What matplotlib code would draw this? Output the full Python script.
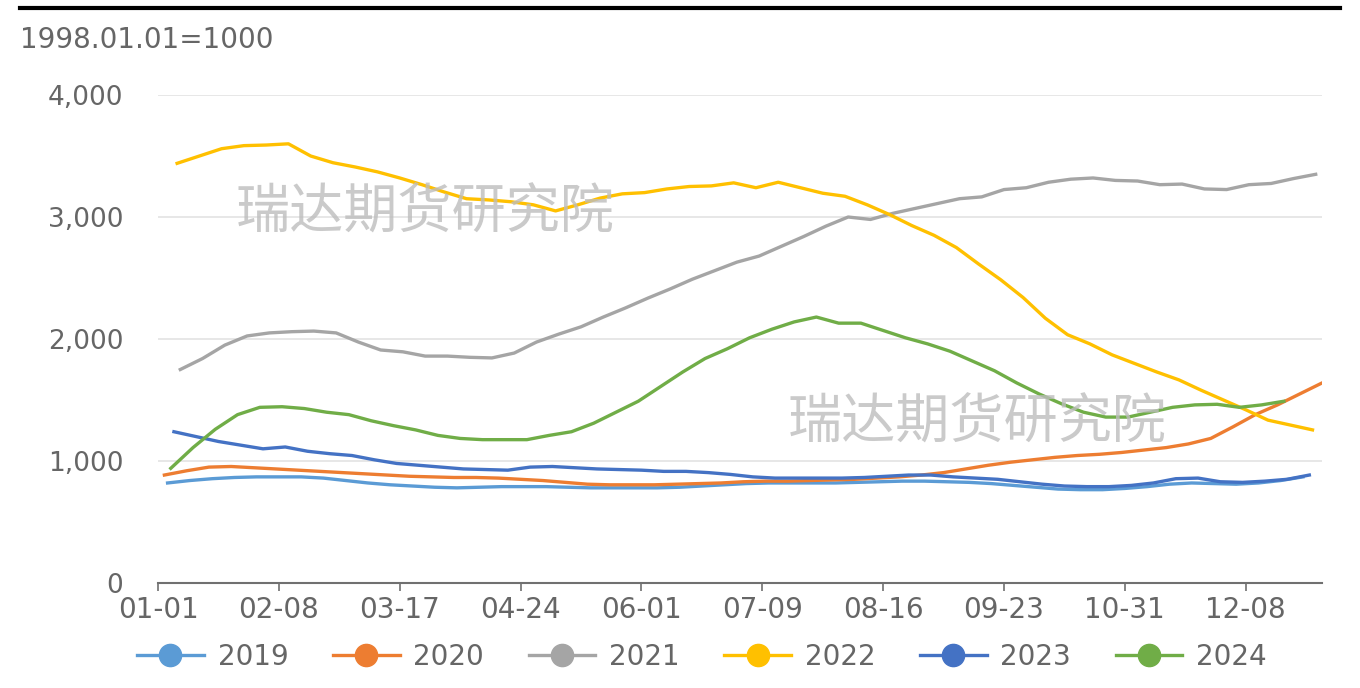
import matplotlib
matplotlib.use("Agg")
import matplotlib.pyplot as plt
from matplotlib.lines import Line2D
import numpy as np

plt.rcParams['font.family'] = ['DejaVu Sans', 'Noto Sans CJK SC']

# weekly index values (1998.01.01=1000), first Friday offset per year (day of year)
years = ['2019', '2020', '2021', '2022', '2023', '2024']
start_day = [3, 2, 7, 6, 5, 4]
colors = ['#5B9BD5', '#ED7D31', '#A5A5A5', '#FFC000', '#4472C4', '#70AD47']

v2019 = [820, 840, 855, 865, 870, 870, 870, 860, 840, 820, 805, 795, 785, 780, 785,
         790, 790, 790, 785, 780, 780, 780, 780, 785, 795, 805, 815, 820, 820, 820,
         820, 825, 830, 835, 835, 830, 825, 815, 800, 785, 770, 765, 765, 775, 790,
         810, 820, 815, 810, 820, 840, 870]
v2020 = [885, 920, 950, 955, 945, 935, 925, 915, 905, 895, 885, 875, 870, 865, 865,
         860, 850, 840, 825, 810, 805, 805, 805, 810, 815, 820, 830, 835, 835, 840,
         845, 850, 860, 870, 885, 905, 935, 965, 990, 1010, 1030, 1045, 1055, 1070,
         1090, 1110, 1140, 1185, 1280, 1380, 1460, 1550, 1640]
v2021 = [1750, 1840, 1950, 2025, 2050, 2060, 2065, 2050, 1975, 1910, 1895, 1860, 1860,
         1850, 1845, 1885, 1975, 2040, 2100, 2180, 2255, 2335, 2410, 2490, 2560, 2630,
         2680, 2760, 2840, 2925, 3000, 2980, 3030, 3070, 3110, 3150, 3165, 3225, 3240,
         3285, 3310, 3320, 3300, 3295, 3265, 3270, 3230, 3225, 3265, 3275, 3315, 3350]
v2022 = [3440, 3500, 3560, 3585, 3590, 3600, 3500, 3445, 3410, 3370, 3320, 3265, 3205,
         3150, 3140, 3125, 3100, 3050, 3100, 3155, 3190, 3200, 3230, 3250, 3255, 3280,
         3240, 3285, 3240, 3195, 3170, 3100, 3020, 2930, 2850, 2750, 2615, 2485, 2340,
         2170, 2035, 1960, 1870, 1800, 1730, 1665, 1580, 1500, 1420, 1335, 1295, 1255]
v2023 = [1240, 1200, 1160, 1130, 1100, 1115, 1080, 1060, 1045, 1010, 980, 965, 950,
         935, 930, 925, 950, 955, 945, 935, 930, 925, 915, 915, 905, 890, 870, 860,
         860, 860, 860, 865, 875, 885, 885, 870, 860, 850, 830, 810, 795, 790, 790,
         800, 820, 855, 860, 830, 825, 835, 850, 885]
v2024 = [940, 1110, 1260, 1380, 1440, 1445, 1430, 1400, 1380, 1330, 1290, 1255, 1210,
         1185, 1175, 1175, 1175, 1210, 1240, 1310, 1400, 1490, 1610, 1730, 1840, 1920,
         2010, 2080, 2140, 2180, 2130, 2130, 2070, 2010, 1960, 1900, 1820, 1740, 1640,
         1550, 1470, 1400, 1360, 1360, 1400, 1440, 1460, 1465, 1440, 1460, 1490]
series = [v2019, v2020, v2021, v2022, v2023, v2024]

tick_days = [0, 38, 76, 114, 152, 190, 228, 266, 304, 342]
tick_labels = ['01-01', '02-08', '03-17', '04-24', '06-01', '07-09', '08-16',
               '09-23', '10-31', '12-08']

txt = '#666666'

fig = plt.figure(figsize=(13.6, 6.88), dpi=100)
ax = fig.add_axes([0.1162, 0.1526, 0.8559, 0.7093])

for name, s0, col, vals in zip(years, start_day, colors, series):
    days = s0 + 7 * np.arange(len(vals))
    ax.plot(days, vals, color=col, lw=2.4, label=name, solid_joinstyle='round')

ax.set_xlim(0, 366)
ax.set_ylim(0, 4000)
ax.set_yticks([0, 1000, 2000, 3000, 4000])
ax.set_yticklabels(['0', '1,000', '2,000', '3,000', '4,000'])
ax.set_xticks(tick_days)
ax.set_xticklabels(tick_labels)
ax.grid(axis='y', color='#E3E3E3', lw=1.2)
ax.set_axisbelow(True)
for sp in ['top', 'right', 'left']:
    ax.spines[sp].set_visible(False)
ax.spines['bottom'].set_color('#707070')
ax.spines['bottom'].set_linewidth(1.5)
ax.tick_params(axis='y', length=0, pad=25, labelsize=19, labelcolor=txt)
ax.tick_params(axis='x', length=6, width=1.2, color='#707070', pad=3,
               labelsize=20, labelcolor=txt)

# watermarks
wm = dict(fontsize=39, color='#BDBDBD', alpha=0.8, ha='center', va='center',
          family=['Noto Sans CJK SC'], zorder=0)
fig.text(425 / 1360, 1 - 213 / 688, '瑞达期货研究院', **wm)
fig.text(977 / 1360, 1 - 423 / 688, '瑞达期货研究院', **wm)

fig.text(20 / 1360, 1 - 40 / 688, '1998.01.01=1000', fontsize=20, color=txt,
         ha='left', va='center')

# top rule
fig.add_artist(Line2D([20 / 1360, 1340 / 1360], [1 - 8 / 688, 1 - 8 / 688],
                      color='black', lw=3))

handles = [Line2D([], [], color=c, lw=2.4, marker='o', markersize=16)
           for c in colors]
fig.legend(handles, years, loc='center', bbox_to_anchor=(702 / 1360, 1 - 657 / 688),
           ncol=6, frameon=False, fontsize=20, labelcolor=txt, handlelength=2.4,
           handletextpad=0.5, columnspacing=1.6)

fig.savefig('out.png', dpi=100)
